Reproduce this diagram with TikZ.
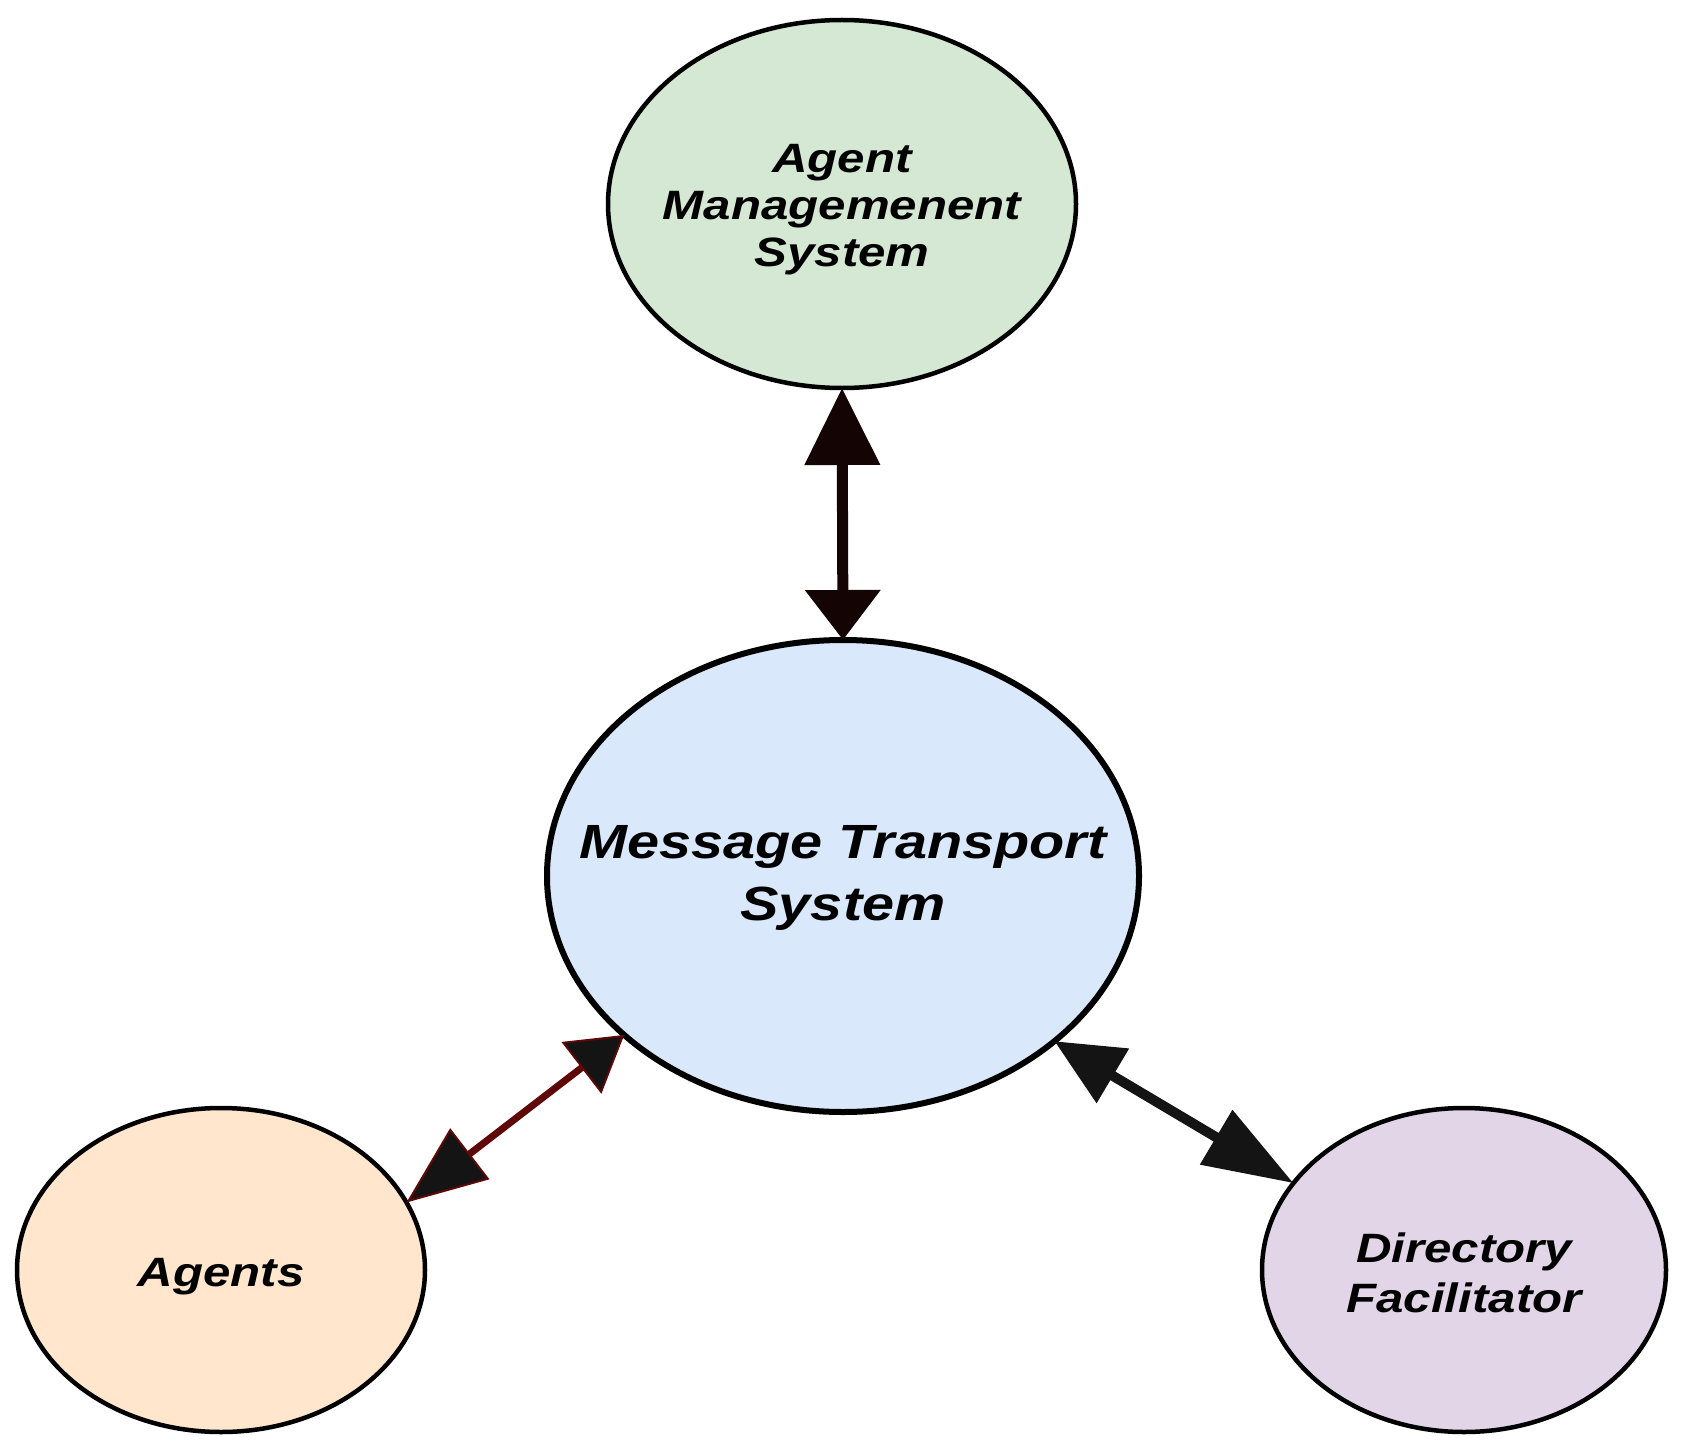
\documentclass[tikz,border=0pt]{standalone}
\usepackage{fontspec}
\newfontfamily\lblfont{Liberation Sans}[FakeStretch=1.2]
\usetikzlibrary{shapes.geometric,arrows.meta}
\definecolor{amsfill}{HTML}{D5E8D4}
\definecolor{mtsfill}{HTML}{DAE8FC}
\definecolor{agfill}{HTML}{FFE6CC}
\definecolor{dffill}{HTML}{E1D5E7}
\definecolor{arrowdark}{HTML}{140404}
\definecolor{arrowred}{HTML}{5E0808}
\definecolor{tipblack}{HTML}{141414}
\begin{document}
\begin{tikzpicture}[x=1pt,y=-1pt,
  bubble/.style={ellipse, draw=black, line width=4.5pt, inner sep=0pt, outer sep=0pt},
  lbl/.style={font=\lblfont\bfseries\itshape\fontsize{41}{47}\selectfont, align=center, text=black, inner sep=0pt},
  biglbl/.style={font=\lblfont\bfseries\itshape\fontsize{48}{62}\selectfont, align=center, text=black, inner sep=0pt},
  dflbl/.style={font=\lblfont\bfseries\itshape\fontsize{41}{50}\selectfont, align=center, text=black, inner sep=0pt}
]
\useasboundingbox (0,0) rectangle (1681,1450);

\node[bubble, fill=amsfill, minimum width=468pt, minimum height=368pt,
  label={[lbl,yshift=-6pt]center:Agent\\Managemenent\\System}] (ams) at (842,204) {};
\node[bubble, fill=mtsfill, line width=6pt, minimum width=592pt, minimum height=472pt,
  label={[biglbl,yshift=-2pt]center:Message Transport\\System}] (mts) at (843,876) {};
\node[bubble, fill=agfill, minimum width=408pt, minimum height=324pt,
  label={[lbl,yshift=-7pt]center:Agents}] (agents) at (221,1270) {};
\node[bubble, fill=dffill, minimum width=404pt, minimum height=324pt,
  label={[dflbl,yshift=-3pt]center:Directory\\Facilitator}] (df) at (1464,1270) {};

\draw[line width=11pt, draw=arrowdark,
  {Triangle[length=50pt,width=73pt]}-{Triangle[length=77pt,width=73pt]}]
  (mts.north) -- (ams.south);

\draw[line width=7pt, draw=arrowred,
  {Triangle[length=80pt,width=64pt,fill=tipblack,line width=2pt]}-{Triangle[length=54pt,width=65pt,fill=tipblack,line width=2pt]}]
  (agents.20.3) -- (mts.216.7);

\draw[line width=10pt, draw=tipblack,
  {Triangle[length=68pt,width=61pt]}-{Triangle[length=90pt,width=61pt]}]
  (mts.-38) -- (df.153.4);
\end{tikzpicture}
\end{document}
